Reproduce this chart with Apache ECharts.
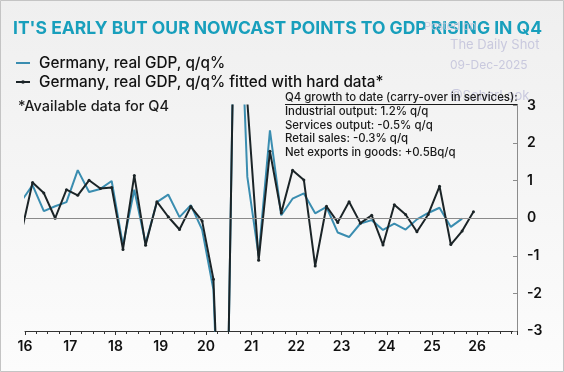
<!DOCTYPE html>
<html>
<head>
<meta charset="utf-8">
<script src="https://cdn.jsdelivr.net/npm/echarts@6/dist/echarts.min.js"></script>
<style>
html,body{margin:0;padding:0;background:#fff;}
#c{width:564px;height:372px;}
</style>
</head>
<body>
<div id="c"></div>
<script>
// Quarter dates (first day of the last month of each quarter)
const quarters = [
  '2015-12',
  '2016-03','2016-06','2016-09','2016-12',
  '2017-03','2017-06','2017-09','2017-12',
  '2018-03','2018-06','2018-09','2018-12',
  '2019-03','2019-06','2019-09','2019-12',
  '2020-03','2020-06','2020-09','2020-12',
  '2021-03','2021-06','2021-09','2021-12',
  '2022-03','2022-06','2022-09','2022-12',
  '2023-03','2023-06','2023-09','2023-12',
  '2024-03','2024-06','2024-09','2024-12',
  '2025-03','2025-06','2025-09','2025-12'
];
// Germany, real GDP, q/q% (ends 2025Q3)
const gdpActual = [
  0.45,
  0.88, 0.19, 0.32, 0.43,
  1.28, 0.70, 0.78, 0.99,
  -0.72, 0.76, -0.67, 0.43,
  0.63, 0.03, 0.35, -0.30,
  -1.90, -9.7, 8.9, 1.10,
  -1.00, 2.34, 0.08, 0.52,
  0.66, 0.13, 0.30, -0.38,
  -0.50, -0.14, -0.05, -0.31,
  -0.14, -0.30, -0.03, 0.14,
  0.28, -0.23, -0.01
];
// Germany, real GDP, q/q% fitted with hard data (ends 2025Q4)
const gdpFitted = [
  -0.40,
  0.95, 0.67, 0.00, 0.76,
  0.61, 1.01, 0.79, 0.82,
  -0.83, 1.14, -0.72, 0.44,
  0.04, -0.30, 0.31, -0.07,
  -1.62, -9.5, 8.7, 3.10,
  -1.12, 1.78, 0.14, 1.28,
  1.02, -1.27, 0.32, -0.11,
  0.44, -0.13, 0.08, -0.71,
  0.36, 0.10, -0.36, 0.10,
  0.85, -0.70, -0.34, 0.17
];
const yTicks = [-3, -2, -1, 0, 1, 2, 3];
const seriesNames = ['Germany, real GDP, q/q%', 'Germany, real GDP, q/q% fitted with hard data*'];
const noteLines = [
  'Q4 growth to date (carry-over in services):',
  'Industrial output: 1.2% q/q',
  'Services output: -0.5% q/q',
  'Retail sales: -0.3% q/q',
  'Net exports in goods: +0.5Bq/q'
];

function toYear(s) {
  const [y, m] = s.split('-').map(Number);
  return y + (m - 1) / 12;
}
const actualData = gdpActual.map((v, i) => [toYear(quarters[i]), v]);
const fittedData = gdpFitted.map((v, i) => [toYear(quarters[i]), v]);

const FONT = 'Inter, "Noto Sans", sans-serif';
const NOTE_FONT = '500 11.4px ' + FONT;
const BLUE = '#3a8db0', BLACK = '#1b2427';

const measureCtx = document.createElement('canvas').getContext('2d');
measureCtx.font = NOTE_FONT;
const underlineW = measureCtx.measureText(noteLines[0]).width;

const chart = echarts.init(document.getElementById('c'), null, {renderer: 'canvas'});

const noteGraphics = noteLines.map((t, i) => ({
  type: 'text', x: 285, y: 97.5 + i * 13.8, z: 5,
  style: {text: t, font: NOTE_FONT, fill: '#1a1a1a', verticalAlign: 'middle'}
}));

chart.setOption({
  animation: false,
  backgroundColor: {
    type: 'linear', x: 0, y: 0, x2: 0, y2: 1,
    colorStops: [{offset: 0, color: '#efefef'}, {offset: 1, color: '#fcfcfc'}]
  },
  title: {
    text: "IT'S EARLY BUT OUR NOWCAST POINTS TO GDP RISING IN Q4",
    left: 8, top: 15,
    textStyle: {color: '#189fbc', fontSize: 17.5, fontWeight: 'bold', fontFamily: FONT}
  },
  grid: {left: 25, right: 47, top: 105.5, bottom: 41, containLabel: false},
  xAxis: {
    type: 'value', min: 2016, max: 2026.88, interval: 1,
    axisLine: {show: true, onZero: false, lineStyle: {color: '#333', width: 1}},
    axisTick: {show: true, length: 4, lineStyle: {color: '#333'}},
    minorTick: {show: true, splitNumber: 4, length: 3, lineStyle: {color: '#333'}},
    splitLine: {show: false},
    axisLabel: {
      margin: 9, color: '#111', fontSize: 14, fontWeight: 600, fontFamily: FONT,
      formatter: v => (Math.abs(v - Math.round(v)) < 1e-6 ? String(Math.round(v) % 100) : '')
    }
  },
  yAxis: {
    type: 'value', position: 'right', min: -3, max: 3, interval: 1,
    axisLine: {show: true, lineStyle: {color: '#8c8c8c', width: 1}},
    axisTick: {show: true, inside: true, length: 4, lineStyle: {color: '#8c8c8c'}},
    splitLine: {show: false},
    axisLabel: {margin: 10, color: '#111', fontSize: 14, fontWeight: 600, fontFamily: FONT,
      formatter: v => (yTicks.includes(v) ? String(v) : '')}
  },
  series: [
    {
      name: seriesNames[0], type: 'line', data: actualData, clip: true,
      symbol: 'none', lineStyle: {color: BLUE, width: 2}, itemStyle: {color: BLUE},
      z: 2,
      markLine: {
        silent: true, symbol: 'none', label: {show: false},
        lineStyle: {color: '#8a8a8a', width: 1, type: 'solid'},
        data: [{yAxis: 0}]
      }
    },
    {
      name: seriesNames[1], type: 'line', data: fittedData, clip: true,
      symbol: 'circle', symbolSize: 3, showSymbol: true,
      lineStyle: {color: BLACK, width: 2}, itemStyle: {color: BLACK},
      z: 3
    }
  ],
  graphic: [
    {type: 'rect', x: 0.5, y: 0.5, shape: {width: 563, height: 371},
     style: {fill: 'none', stroke: '#c4c4c4', lineWidth: 1}, z: 100},
    // legend
    {type: 'line', shape: {x1: 16, y1: 63, x2: 30, y2: 63}, style: {stroke: BLUE, lineWidth: 2}, z: 5},
    {type: 'text', x: 39, y: 63, z: 5, style: {text: seriesNames[0], font: '500 15.3px ' + FONT, fill: '#111', verticalAlign: 'middle'}},
    {type: 'line', shape: {x1: 16, y1: 82, x2: 30, y2: 82}, style: {stroke: BLACK, lineWidth: 2}, z: 5},
    {type: 'circle', shape: {cx: 23, cy: 82, r: 1.8}, style: {fill: BLACK}, z: 5},
    {type: 'text', x: 39, y: 82, z: 5, style: {text: seriesNames[1], font: '500 15.3px ' + FONT, fill: '#111', verticalAlign: 'middle'}},
    {type: 'text', x: 18, y: 107, z: 5, style: {text: '*Available data for Q4', font: '500 14.5px ' + FONT, fill: '#1a1a1a', verticalAlign: 'middle'}},
    ...noteGraphics,
    {type: 'line', shape: {x1: 285, y1: 104.5, x2: 285 + underlineW, y2: 104.5}, style: {stroke: '#1a1a1a', lineWidth: 1}, z: 5},
    // watermark
    {type: 'text', x: 424, y: 27, z: 50, style: {text: 'Posted on', font: '11px ' + FONT, fill: 'rgba(200,200,220,0.85)', verticalAlign: 'middle'}},
    {type: 'text', x: 450, y: 45, z: 50, style: {text: 'The Daily Shot', font: '13px ' + FONT, fill: '#c9c9de', verticalAlign: 'middle'}},
    {type: 'text', x: 450, y: 65.5, z: 50, style: {text: '09-Dec-2025', font: '12px ' + FONT, fill: '#c9c9de', verticalAlign: 'middle'}},
    {type: 'text', x: 450, y: 96, z: 1, style: {text: '@SoberLook', font: '13px ' + FONT, fill: '#c9c9de', verticalAlign: 'middle'}}
  ]
});
</script>
</body>
</html>
